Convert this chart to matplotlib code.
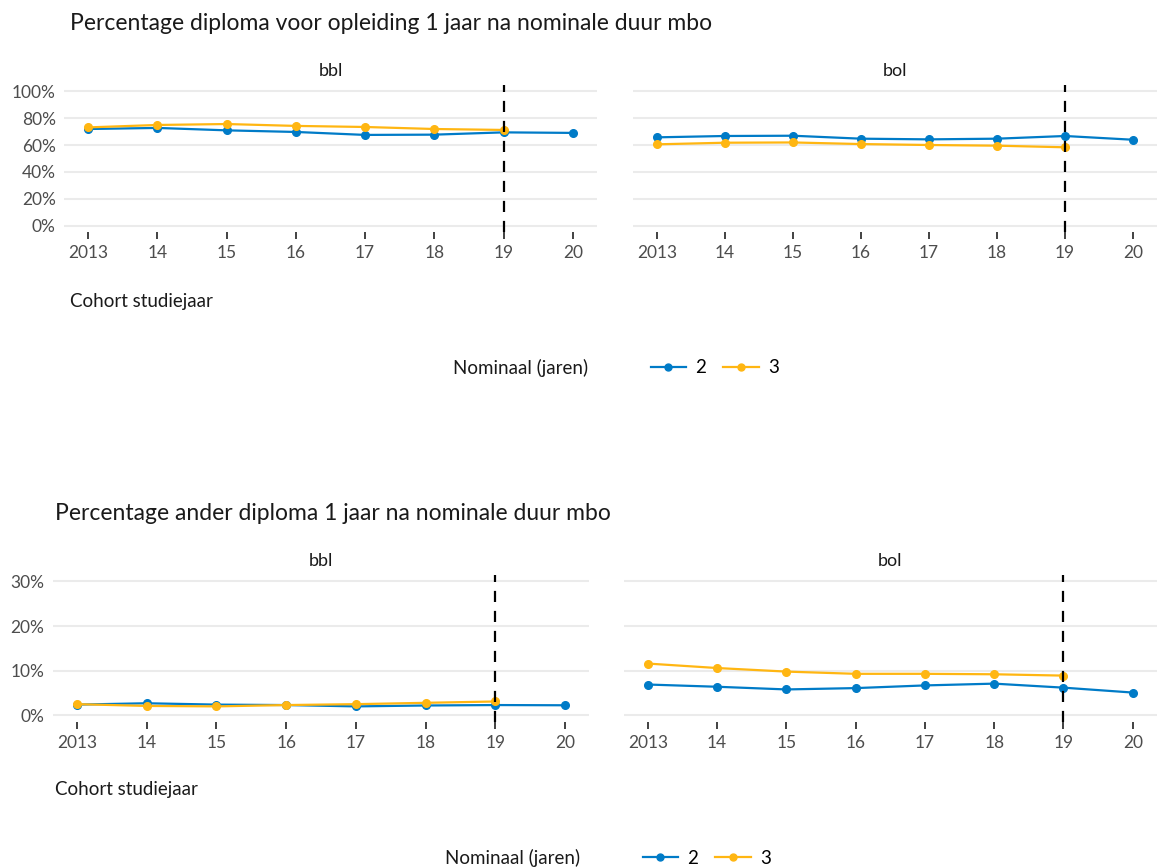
import matplotlib.pyplot as plt
from matplotlib.lines import Line2D
from matplotlib.ticker import PercentFormatter

plt.rcParams['font.family'] = ['Lato', 'DejaVu Sans']

jaren = [2013, 2014, 2015, 2016, 2017, 2018, 2019, 2020]
jaar_labels = ['2013', '14', '15', '16', '17', '18', '19', '20']
jaren_3 = jaren[:7]

# diploma voor opleiding (%)
dipl_bbl_2 = [71.9, 72.7, 70.9, 69.7, 67.5, 67.7, 69.4, 69.0]
dipl_bbl_3 = [73.1, 74.9, 75.6, 74.2, 73.4, 71.9, 71.2]
dipl_bol_2 = [65.7, 66.7, 66.9, 64.7, 64.2, 64.7, 66.7, 63.9]
dipl_bol_3 = [60.5, 61.7, 61.9, 60.7, 60.0, 59.5, 58.3]

# ander diploma (%)
ander_bbl_2 = [2.4, 2.7, 2.4, 2.3, 2.0, 2.2, 2.3, 2.25]
ander_bbl_3 = [2.5, 2.1, 2.0, 2.3, 2.5, 2.8, 3.1]
ander_bol_2 = [6.9, 6.4, 5.8, 6.1, 6.7, 7.1, 6.2, 5.1]
ander_bol_3 = [11.6, 10.6, 9.8, 9.3, 9.3, 9.2, 8.9]

blauw = '#007BC7'
geel = '#FFB612'
W, H = 1157, 868


def px_axes(fig, x0, y0, x1, y1):
    return fig.add_axes([x0 / W, 1 - y1 / H, (x1 - x0) / W, (y1 - y0) / H])


def panel(ax, v2, v3, ymax, ystep, strip, show_y):
    ax.plot(jaren, v2, color=blauw, lw=1.6, marker='o', ms=5.5, zorder=3)
    ax.plot(jaren_3, v3, color=geel, lw=1.6, marker='o', ms=5.5, zorder=3)
    ax.axvline(2019, color='black', lw=1.6, ls=(0, (5, 4)), zorder=4)
    ax.set_xlim(2012.65, 2020.35)
    ax.set_ylim(-ymax * 0.05, ymax * 1.05)
    ax.set_yticks(list(range(0, ymax + 1, ystep)))
    ax.yaxis.set_major_formatter(PercentFormatter(decimals=0))
    ax.set_xticks(jaren)
    ax.set_xticklabels(jaar_labels)
    ax.grid(axis='y', color='#ebebeb', lw=1.5)
    ax.set_axisbelow(True)
    for s in ax.spines.values():
        s.set_visible(False)
    ax.tick_params(axis='x', length=5, width=1.3, color='#333333', labelsize=12.5,
                   labelcolor='#4d4d4d', pad=4)
    ax.tick_params(axis='y', length=0, labelsize=12.5, labelcolor='#4d4d4d', pad=6)
    if not show_y:
        ax.tick_params(axis='y', labelleft=False)
    ax.set_title(strip, fontsize=13, color='#1a1a1a', pad=6)


fig = plt.figure(figsize=(W / 100, H / 100), dpi=100)

# bovenste figuur
fig.text(70 / W, 1 - 24 / H, 'Percentage diploma voor opleiding 1 jaar na nominale duur mbo',
         fontsize=16.5, va='center', ha='left', color='#1a1a1a')
ax1 = px_axes(fig, 64, 84.5, 597, 232.4)
panel(ax1, dipl_bbl_2, dipl_bbl_3, 100, 20, 'bbl', True)
ax2 = px_axes(fig, 633, 84.5, 1157, 232.4)
panel(ax2, dipl_bol_2, dipl_bol_3, 100, 20, 'bol', False)
fig.text(70 / W, 1 - 302 / H, 'Cohort studiejaar', fontsize=13.5, va='center', color='#1a1a1a')

# onderste figuur
fig.text(55 / W, 1 - 513 / H, 'Percentage ander diploma 1 jaar na nominale duur mbo',
         fontsize=16.5, va='center', ha='left', color='#1a1a1a')
ax3 = px_axes(fig, 52.6, 574.8, 589.4, 722)
panel(ax3, ander_bbl_2, ander_bbl_3, 30, 10, 'bbl', True)
ax4 = px_axes(fig, 623.6, 574.8, 1157, 722)
panel(ax4, ander_bol_2, ander_bol_3, 30, 10, 'bol', False)
fig.text(55 / W, 1 - 790 / H, 'Cohort studiejaar', fontsize=13.5, va='center', color='#1a1a1a')

handles = [Line2D([], [], color=blauw, lw=1.6, marker='o', ms=5),
           Line2D([], [], color=geel, lw=1.6, marker='o', ms=5)]
for ly, tx in [(368, 453), (858, 445)]:
    fig.text(tx / W, 1 - ly / H, 'Nominaal (jaren)', fontsize=13.5, va='center', color='#1a1a1a')
    fig.legend(handles, ['2', '3'], loc='center left', bbox_to_anchor=((tx + 190) / W, 1 - ly / H),
               ncol=2, frameon=False, fontsize=13.5, handlelength=1.9, columnspacing=0.9,
               handletextpad=0.5, borderaxespad=0)

fig.savefig('out.png', dpi=100)
